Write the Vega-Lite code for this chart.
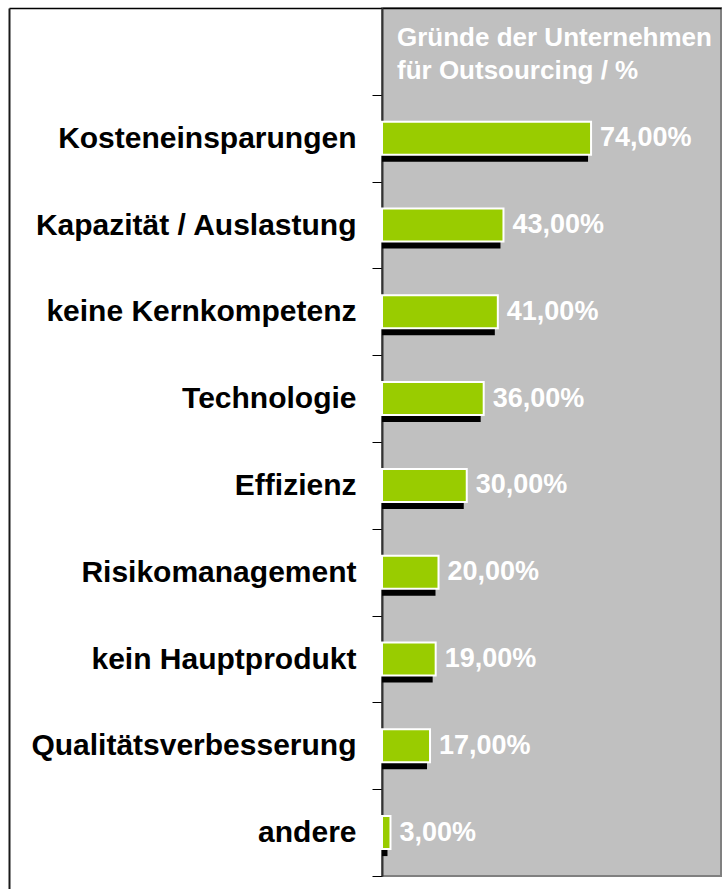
{
  "$schema": "https://vega.github.io/schema/vega-lite/v6.json",
  "padding": {"left": 9, "top": -8, "right": 0, "bottom": 0},
  "background": "white",
  "spacing": 0,
  "bounds": "flush",
  "data": {
    "values": [
      {"reason": "Kosteneinsparungen", "value": 0.74},
      {"reason": "Kapazität / Auslastung", "value": 0.43},
      {"reason": "keine Kernkompetenz", "value": 0.41},
      {"reason": "Technologie", "value": 0.36},
      {"reason": "Effizienz", "value": 0.30},
      {"reason": "Risikomanagement", "value": 0.20},
      {"reason": "kein Hauptprodukt", "value": 0.19},
      {"reason": "Qualitätsverbesserung", "value": 0.17},
      {"reason": "andere", "value": 0.03}
    ]
  },
  "config": {
    "font": "Liberation Sans",
    "locale": {"number": {"decimal": ",", "thousands": ".", "grouping": [3], "currency": ["", " €"]}}
  },
  "hconcat": [
    {
      "width": 373,
      "height": 881,
      "view": {"stroke": null, "fill": null},
      "mark": {"type": "point", "opacity": 0},
      "encoding": {
        "x": {"field": "value", "type": "quantitative", "axis": {"orient": "top", "labels": false, "ticks": false, "grid": false, "title": null, "domainColor": "#000000", "domainWidth": 1.5}},
        "y": {"field": "value", "type": "quantitative", "axis": {"orient": "left", "labels": false, "ticks": false, "grid": false, "title": null, "domainColor": "#1a1a1a", "domainWidth": 2}}
      }
    },
    {
      "width": 339,
      "height": 868,
      "view": {"fill": "#c0c0c0", "stroke": "#808080", "strokeWidth": 2},
      "title": {
        "text": ["Gründe der Unternehmen", "für Outsourcing / %"],
        "anchor": "start",
        "frame": "group",
        "orient": "top",
        "baseline": "top",
        "offset": -91,
        "dx": 15,
        "color": "#ffffff",
        "font": "Liberation Sans",
        "fontWeight": "bold",
        "fontSize": 26,
        "lineHeight": 33
      },
      "encoding": {
        "y": {
          "field": "reason",
          "type": "nominal",
          "sort": null,
          "scale": {
            "domain": [" ", "Kosteneinsparungen", "Kapazität / Auslastung", "keine Kernkompetenz", "Technologie", "Effizienz", "Risikomanagement", "kein Hauptprodukt", "Qualitätsverbesserung", "andere"],
            "paddingInner": 0,
            "paddingOuter": 0
          },
          "axis": {
            "title": null,
            "grid": false,
            "tickBand": "extent",
            "tickSize": 10,
            "tickColor": "#000000",
            "tickWidth": 1,
            "domainColor": "#333333",
            "domainWidth": 2,
            "labelFont": "Liberation Sans",
            "labelFontWeight": "bold",
            "labelFontSize": 30,
            "labelColor": "#000000",
            "labelPadding": 16,
            "labelLimit": 400
          }
        },
        "x": {
          "field": "value",
          "type": "quantitative",
          "scale": {"domain": [0, 1.2]},
          "axis": {"orient": "top", "labels": false, "ticks": false, "grid": false, "title": null, "domainColor": "#000000", "domainWidth": 1.5}
        }
      },
      "layer": [
        {
          "mark": {"type": "bar", "color": "#000000", "yOffset": 7, "xOffset": -3, "height": {"band": 0.38}},
          "encoding": {"x2": {"datum": 0}}
        },
        {
          "mark": {"type": "bar", "color": "#99cc00", "stroke": "#ffffff", "strokeWidth": 2, "height": {"band": 0.38}},
          "encoding": {"x2": {"datum": 0}}
        },
        {
          "mark": {"type": "text", "align": "left", "baseline": "middle", "dx": 9, "color": "#ffffff", "font": "Liberation Sans", "fontWeight": "bold", "fontSize": 27},
          "encoding": {"text": {"field": "value", "type": "quantitative", "format": ".2%"}}
        }
      ]
    }
  ]
}
